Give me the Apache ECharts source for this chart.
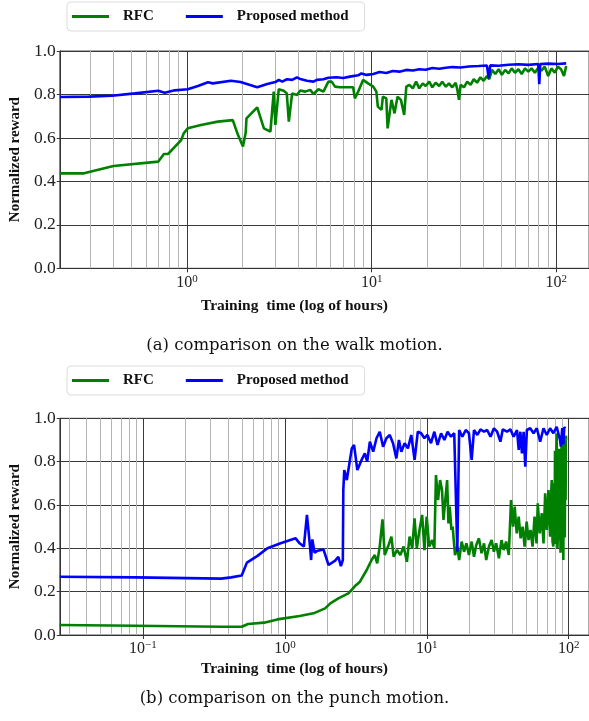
<!DOCTYPE html>
<html><head><meta charset="utf-8">
<script src="https://cdn.jsdelivr.net/npm/echarts@6/dist/echarts.min.js"></script>
<style>html,body{margin:0;padding:0;background:#fff}#c{width:589px;height:721px}</style>
</head><body><div id="c"></div>
<script>
// ---------- data ----------
const seriesNames = ['RFC', 'Proposed method'];
const captions = ['(a) comparison on the walk motion.', '(b) comparison on the punch motion.'];
const xTitle = 'Training  time (log of hours)';
const yTitle = 'Normalized reward';
const yTicks = [0, 0.2, 0.4, 0.6, 0.8, 1.0];
const walkXRange = [0.2048, 150.2];
const punchXRange = [0.02593, 138.9];
const walkXLabels = [1, 10, 100];
const punchXLabels = [0.1, 1, 10, 100];
const walkMinorGrid = [0.3,0.4,0.5,0.6,0.7,0.8,0.9,2,3,4,5,6,7,8,9,20,30,40,50,60,70,80,90];
const punchMinorGrid = [0.03,0.04,0.05,0.06,0.07,0.08,0.09,0.2,0.3,0.4,0.5,0.6,0.7,0.8,0.9,2,3,4,5,6,7,8,9,20,30,40,50,60,70,80,90];

// walk motion: RFC (hours, reward)
const walkRfc = [[0.205,0.437],[0.277,0.437],[0.40,0.471],[0.70,0.491],[0.75,0.526],[0.79,0.526],[0.93,0.59],[0.96,0.621],[1.01,0.644],[1.19,0.659],[1.47,0.675],[1.77,0.682],[1.89,0.613],[2.01,0.56],[2.08,0.625],[2.10,0.69],[2.40,0.741],[2.61,0.644],[2.83,0.629],[2.95,0.813],[3.01,0.66],[3.14,0.824],[3.34,0.817],[3.47,0.805],[3.56,0.675],[3.71,0.805],[3.94,0.798],[4.11,0.818],[4.37,0.813],[4.65,0.821],[4.84,0.802],[5.15,0.824],[5.48,0.813],[5.83,0.859],[6.07,0.859],[6.33,0.836],[6.73,0.833],[7.31,0.833],[7.94,0.833],[8.11,0.782],[8.45,0.813],[8.98,0.867],[9.56,0.851],[10.2,0.836],[10.6,0.813],[10.8,0.744],[11.3,0.729],[11.5,0.790],[12.0,0.782],[12.2,0.644],[12.8,0.775],[13.3,0.713],[13.8,0.790],[14.4,0.775],[15.0,0.706],[15.4,0.836],[16.0,0.844],[16.7,0.828],[17.4,0.859],[18.1,0.828],[18.9,0.851],[19.6,0.839],[20.5,0.859],[21.3,0.833],[22.2,0.854],[23.2,0.839],[24.1,0.859],[25.2,0.836],[26.2,0.851],[27.3,0.833],[28.5,0.854],[29.1,0.821],[29.7,0.775],[30.3,0.844],[31.6,0.833],[32.9,0.859],[34.3,0.844],[35.7,0.870],[37.2,0.854],[38.8,0.879],[40.4,0.863],[42.1,0.885],[43.3,0.870],[44.8,0.913],[46.7,0.894],[48.7,0.916],[50.7,0.890],[52.8,0.913],[55.1,0.897],[57.3,0.920],[59.7,0.900],[62.3,0.916],[64.9,0.894],[67.6,0.920],[70.5,0.905],[73.4,0.920],[76.5,0.900],[79.8,0.923],[83.0,0.910],[86.5,0.928],[90.3,0.885],[94.0,0.920],[98.0,0.900],[102,0.928],[106,0.916],[110,0.885],[113,0.931]];
// walk motion: proposed method
const walkProp = [[0.205,0.788],[0.294,0.790],[0.392,0.794],[0.523,0.805],[0.699,0.817],[0.758,0.808],[0.858,0.819],[1.01,0.824],[1.146,0.839],[1.30,0.856],[1.38,0.851],[1.73,0.863],[1.95,0.857],[2.40,0.833],[2.72,0.848],[3.01,0.857],[3.14,0.867],[3.28,0.859],[3.48,0.870],[3.71,0.867],[3.94,0.879],[4.11,0.871],[4.46,0.863],[4.84,0.859],[5.05,0.867],[5.48,0.870],[5.83,0.877],[5.95,0.873],[6.46,0.879],[7.01,0.876],[7.62,0.882],[8.45,0.888],[8.80,0.897],[9.38,0.890],[10.2,0.894],[11.04,0.903],[12.0,0.899],[13.0,0.908],[14.13,0.905],[15.4,0.913],[16.7,0.910],[18.1,0.916],[19.6,0.914],[21.3,0.922],[23.2,0.918],[25.2,0.923],[27.3,0.926],[30.3,0.924],[33.6,0.929],[38.0,0.931],[42.1,0.933],[43.0,0.874],[43.9,0.934],[48.7,0.932],[55.1,0.937],[62.3,0.939],[70.5,0.936],[79.8,0.940],[80.8,0.847],[81.8,0.940],[90.3,0.942],[102,0.940],[113,0.943]];
// punch motion: RFC
const punchRfc = [[0.0259,0.046],[0.088,0.043],[0.355,0.038],[0.496,0.038],[0.55,0.051],[0.713,0.057],[0.885,0.072],[1.27,0.088],[1.59,0.100],[1.92,0.123],[2.09,0.146],[2.38,0.169],[2.80,0.192],[3.12,0.226],[3.38,0.246],[3.77,0.300],[4.08,0.346],[4.30,0.369],[4.47,0.331],[4.67,0.415],[4.87,0.534],[5.05,0.369],[5.33,0.408],[5.63,0.454],[5.84,0.361],[6.16,0.392],[6.51,0.369],[6.86,0.408],[7.24,0.338],[7.56,0.454],[7.89,0.400],[8.19,0.538],[8.50,0.400],[8.88,0.485],[9.27,0.554],[9.62,0.392],[9.98,0.546],[10.4,0.408],[10.9,0.438],[11.3,0.400],[11.6,0.738],[12.0,0.623],[12.4,0.715],[12.8,0.669],[13.1,0.531],[13.9,0.715],[14.2,0.515],[14.5,0.592],[14.9,0.485],[15.2,0.500],[15.8,0.369],[16.4,0.408],[16.9,0.346],[17.6,0.431],[18.3,0.384],[19.0,0.423],[19.8,0.369],[20.7,0.431],[21.5,0.361],[22.3,0.415],[23.3,0.446],[24.3,0.377],[25.3,0.423],[26.2,0.346],[27.4,0.408],[28.6,0.438],[29.7,0.384],[30.8,0.423],[32.2,0.354],[33.6,0.438],[34.8,0.392],[36.2,0.431],[37.8,0.369],[39.2,0.623],[40.5,0.500],[41.6,0.592],[43.0,0.469],[44.4,0.546],[45.8,0.446],[47.3,0.500],[48.9,0.408],[50.5,0.523],[52.1,0.438],[53.8,0.485],[55.6,0.408],[57.4,0.546],[59.3,0.423],[60.5,0.608],[62.5,0.469],[64.6,0.562],[66.4,0.423],[68.2,0.654],[70.0,0.485],[71.9,0.669],[73.9,0.454],[74.8,0.620],[75.9,0.715],[76.9,0.430],[77.9,0.408],[78.9,0.700],[79.5,0.450],[80.0,0.850],[80.8,0.420],[81.5,0.780],[82.2,0.931],[83.2,0.400],[84.4,0.500],[85.5,0.860],[86.3,0.440],[86.8,0.808],[87.5,0.380],[88.2,0.531],[89.0,0.900],[89.6,0.420],[90.1,0.885],[91.0,0.500],[91.6,0.346],[92.3,0.880],[93.1,0.915],[93.8,0.450],[94.5,0.860],[95.0,0.623],[95.5,0.920],[96.0,0.900]];
// punch motion: proposed method
const punchProp = [[0.0259,0.269],[0.088,0.266],[0.355,0.260],[0.418,0.266],[0.496,0.275],[0.540,0.334],[0.641,0.365],[0.753,0.400],[0.933,0.423],[1.19,0.446],[1.27,0.423],[1.36,0.408],[1.43,0.554],[1.50,0.415],[1.53,0.346],[1.56,0.441],[1.62,0.380],[1.70,0.389],[1.87,0.395],[2.03,0.323],[2.26,0.343],[2.38,0.361],[2.48,0.318],[2.56,0.346],[2.58,0.669],[2.62,0.761],[2.73,0.715],[2.96,0.861],[3.07,0.877],[3.24,0.761],[3.47,0.808],[3.66,0.838],[3.80,0.800],[3.97,0.892],[4.19,0.846],[4.42,0.908],[4.66,0.938],[4.92,0.869],[5.19,0.908],[5.48,0.923],[5.78,0.885],[6.10,0.815],[6.36,0.900],[6.61,0.846],[6.98,0.885],[7.36,0.861],[7.77,0.923],[8.20,0.808],[8.64,0.938],[9.12,0.931],[9.62,0.908],[10.1,0.923],[10.7,0.885],[11.3,0.938],[11.9,0.877],[12.6,0.931],[13.3,0.900],[14.0,0.938],[14.8,0.915],[15.6,0.931],[16.4,0.384],[16.9,0.946],[17.8,0.915],[18.8,0.946],[19.8,0.931],[20.7,0.808],[21.5,0.946],[22.7,0.923],[23.9,0.949],[25.3,0.938],[26.6,0.946],[28.1,0.915],[29.7,0.954],[31.3,0.938],[33.0,0.892],[34.3,0.949],[36.7,0.938],[38.8,0.949],[40.9,0.915],[43.2,0.946],[44.4,0.854],[45.6,0.938],[46.8,0.838],[48.1,0.938],[49.4,0.777],[50.7,0.946],[53.5,0.954],[56.5,0.931],[59.6,0.954],[62.9,0.892],[66.4,0.954],[70.0,0.923],[73.9,0.954],[77.9,0.931],[82.2,0.961],[86.8,0.900],[88.0,0.870],[90.0,0.955],[91.6,0.880],[93.0,0.958],[95.0,0.954]];

// ---------- chart ----------
const GREEN = '#008000', BLUE = '#0000ff';
const serif = 'Liberation Serif';
const chart = echarts.init(document.getElementById('c'), null, {renderer: 'canvas'});

function gridMarks(minor, major) {
  const d = [];
  minor.forEach(v => d.push({xAxis: v, lineStyle: {color: '#b4b4b4', width: 1}}));
  major.forEach(v => d.push({xAxis: v, lineStyle: {color: '#3a3a3a', width: 1}}));
  return {silent: true, symbol: 'none', z: 1, animation: false, label: {show: false},
          emphasis: {disabled: true}, lineStyle: {type: 'solid'}, data: d};
}
function xAxisCfg(idx, range, labels) {
  return {
    type: 'log', logBase: 10, gridIndex: idx, min: range[0], max: range[1],
    axisLine: {show: true, lineStyle: {color: '#333', width: 1}},
    axisTick: {show: true, customValues: labels, length: 4, lineStyle: {color: '#333'}},
    splitLine: {show: false},
    axisLabel: {
      customValues: labels, margin: 5,
      formatter: v => { const e = Math.round(Math.log10(v)); return '{b|10}{s|' + (e < 0 ? '\u2212' + (-e) : e) + '}'; },
      rich: {
        b: {fontFamily: serif, fontSize: 16, color: '#222', verticalAlign: 'bottom', lineHeight: 17},
        s: {fontFamily: serif, fontSize: 11, color: '#222', verticalAlign: 'top', lineHeight: 11, padding: [0, 0, 12, 0]}
      }
    }
  };
}
function yAxisCfg(idx) {
  return {
    type: 'value', gridIndex: idx, min: yTicks[0], max: yTicks[yTicks.length - 1], interval: 0.2,
    axisLine: {show: true, lineStyle: {color: '#333', width: 1}},
    axisTick: {show: true, length: 3, lineStyle: {color: '#333'}},
    splitLine: {show: true, lineStyle: {color: '#3a3a3a', width: 1}},
    axisLabel: {formatter: v => v.toFixed(1), fontFamily: serif, fontSize: 17.5, color: '#222', margin: 4},
    name: yTitle, nameLocation: 'middle', nameGap: 31,
    nameTextStyle: {fontFamily: serif, fontWeight: 'bold', fontSize: 15, color: '#111'}
  };
}
function legendCfg(top) {
  return {
    left: 67, top: top, orient: 'horizontal', data: seriesNames,
    icon: 'rect', itemWidth: 37, itemHeight: 3, itemGap: 32,
    backgroundColor: '#fff', borderColor: '#dcdcdc', borderWidth: 1, borderRadius: 4,
    padding: [7, 16, 7, 5],
    textStyle: {fontFamily: serif, fontWeight: 'bold', fontSize: 15, color: '#111', padding: [0, 0, 0, 9]}
  };
}
function lineSeries(name, data, idx, color, marks) {
  const s = {
    name: name, type: 'line', xAxisIndex: idx, yAxisIndex: idx, data: data,
    showSymbol: false, symbol: 'none', z: 3, animation: false,
    lineStyle: {color: color, width: 2.6}, itemStyle: {color: color}
  };
  if (marks) s.markLine = marks;
  return s;
}
const capStyle = {fontFamily: 'DejaVu Serif', fontWeight: 'normal', fontSize: 16.5, color: '#111'};
const xTitleStyle = {fontFamily: serif, fontWeight: 'bold', fontSize: 15.5, color: '#111'};

chart.setOption({
  animation: false,
  backgroundColor: '#fff',
  title: [
    {text: xTitle, left: 'center', top: 298, padding: 0, textStyle: xTitleStyle},
    {text: captions[0], left: 'center', top: 337, padding: 0, textStyle: capStyle},
    {text: xTitle, left: 'center', top: 661, padding: 0, textStyle: xTitleStyle},
    {text: captions[1], left: 'center', top: 690, padding: 0, textStyle: capStyle}
  ],
  legend: [legendCfg(2), legendCfg(366)],
  grid: [
    {left: 57.3, top: 51, right: -2, height: 217.3, show: true, borderColor: '#555', borderWidth: 1, containLabel: false},
    {left: 57.3, top: 418.3, right: -2, height: 216.7, show: true, borderColor: '#555', borderWidth: 1, containLabel: false}
  ],
  xAxis: [xAxisCfg(0, walkXRange, walkXLabels), xAxisCfg(1, punchXRange, punchXLabels)],
  yAxis: [yAxisCfg(0), yAxisCfg(1)],
  series: [
    lineSeries(seriesNames[0], walkRfc, 0, GREEN, gridMarks(walkMinorGrid, walkXLabels)),
    lineSeries(seriesNames[1], walkProp, 0, BLUE),
    lineSeries(seriesNames[0], punchRfc, 1, GREEN, gridMarks(punchMinorGrid, punchXLabels)),
    lineSeries(seriesNames[1], punchProp, 1, BLUE)
  ]
});
</script>
</body></html>
